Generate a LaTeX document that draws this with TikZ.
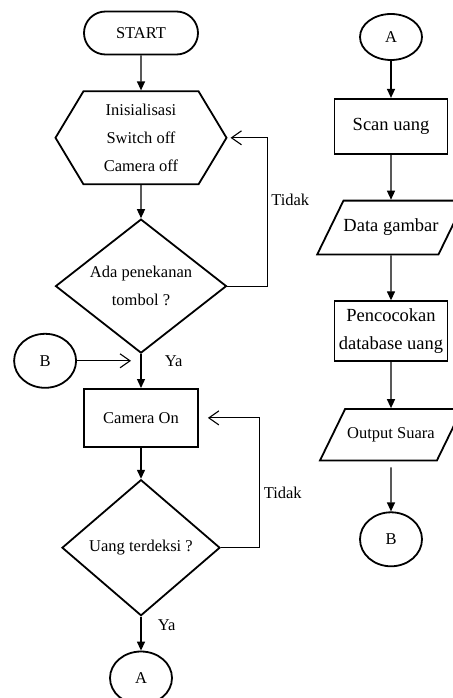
\documentclass[tikz,border=0pt]{standalone}
\usepackage{fontspec}
\setmainfont{Liberation Serif}
\usetikzlibrary{arrows.meta, positioning, shapes.geometric, shapes.misc, shapes.symbols}

\tikzset{
  shapeline/.style={draw, line width=1.8pt, align=center, inner sep=0pt},
  terminal/.style={shapeline, rounded rectangle, minimum width=114pt, minimum height=43pt},
  prepare/.style={shapeline, signal, signal to=west and east, signal pointer angle=118, minimum width=171pt, minimum height=93pt},
  process/.style={shapeline, rectangle, minimum width=113pt, minimum height=55pt},
  decision/.style={shapeline, diamond, aspect=1.28, minimum width=171pt, minimum height=134pt},
  io/.style={shapeline, trapezium, trapezium left angle=64, trapezium right angle=116, trapezium stretches body=true, inner ysep=18.5pt, minimum width=142pt},
  conn/.style={shapeline, ellipse, minimum width=62pt, minimum height=54pt},
  widetext/.style={font=\fontsize{18.5}{28}\selectfont},
  flowline/.style={line width=1.3pt, -{Triangle[width=8pt,length=9pt]}},
  backline/.style={line width=1.1pt, -{Straight Barb[width=14pt,length=10pt]}},
}

\begin{document}
\begin{tikzpicture}[node distance=33pt, font=\fontsize{16.5}{28}\selectfont]
    \useasboundingbox (0,0) rectangle (452pt,-698pt);

    % left column
    \node[terminal] (start) at (141pt,-33pt) {START};
    \node[prepare, below=35pt of start] (init) {Inisialisasi\\Switch off\\Camera off};
    \node[decision, below=of init] (press) {Ada penekanan\\tombol ?};
    \node[process, below=34pt of press, minimum width=114pt, minimum height=58pt] (camon) {Camera On};
    \node[decision, below=31pt of camon, minimum width=158pt, minimum height=136pt] (detect) {Uang terdeksi ?};
    \node[conn, below=34pt of detect, minimum height=53pt] (goA) {A};

    % right column
    \node[conn, minimum height=46pt] (fromA) at (391pt,-37pt) {A};
    \node[process, widetext, below=37pt of fromA] (scan) {Scan uang};
    \node[io, widetext, below=45pt of scan] (img) {Data gambar};
    \node[process, widetext, below=45pt of img, minimum height=60pt] (match) {Pencocokan\\database uang};
    \node[io, below=46pt of match] (sound) {Output Suara};
    \node[conn, below=50pt of sound] (toB) {B};

    % Transitions
    \draw[flowline] (start) -- (init);
    \draw[flowline] (init) -- (press);
    \draw[flowline] (press) -- coordinate[pos=0.2] (merge) node[right=20pt, pos=0.2] {Ya} (camon);
    \draw[flowline] (camon) -- (detect);
    \draw[flowline] (detect) -- node[right=13pt, pos=0.24] {Ya} (goA);

    \node[conn, left=64pt of merge] (fromB) {B};
    \draw[backline] (fromB) -- ([xshift=-10pt]merge);

    \draw[backline, shorten >=3pt] (press.east) -- ++(40pt,0) |- node[right, pos=0.29] {Tidak} (init.east);
    \draw[backline, shorten >=9pt] (detect.east) -- ++(39pt,0) |- node[right, pos=0.21] {Tidak} (camon.east);

    \draw[flowline] (fromA) -- (scan);
    \draw[flowline] (scan) -- (img);
    \draw[flowline] (img) -- (match);
    \draw[flowline] (match) -- (sound);
    \draw[flowline, shorten <=6pt] (sound) -- (toB);
\end{tikzpicture}
\end{document}
